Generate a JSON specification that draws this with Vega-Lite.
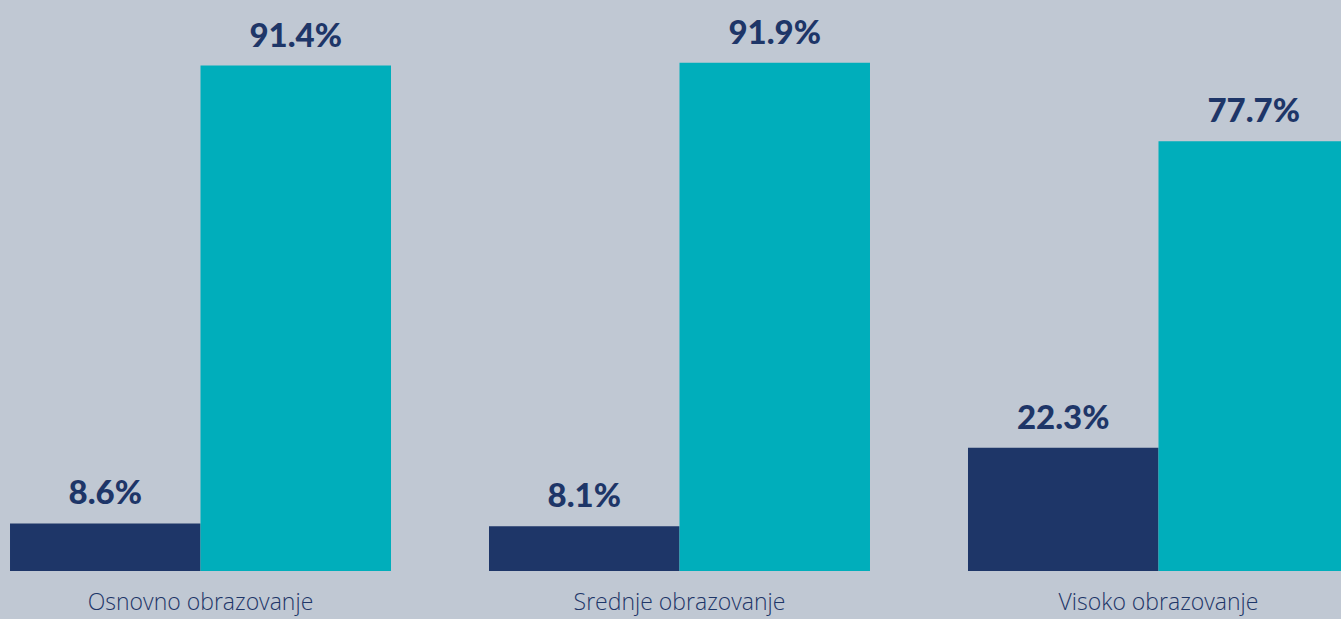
{
  "$schema": "https://vega.github.io/schema/vega-lite/v6.json",
  "width": 1341,
  "height": 571,
  "autosize": {"type": "none"},
  "padding": {"left": 0, "top": 0, "right": 0, "bottom": 48},
  "background": "#c0c8d3",
  "config": {"view": {"stroke": null}},
  "data": {
    "values": [
      {"level": "Osnovno obrazovanje", "series": "A", "value": 0.086},
      {"level": "Osnovno obrazovanje", "series": "B", "value": 0.914},
      {"level": "Srednje obrazovanje", "series": "A", "value": 0.081},
      {"level": "Srednje obrazovanje", "series": "B", "value": 0.919},
      {"level": "Visoko obrazovanje", "series": "A", "value": 0.223},
      {"level": "Visoko obrazovanje", "series": "B", "value": 0.777}
    ]
  },
  "encoding": {
    "x": {
      "field": "level",
      "type": "nominal",
      "sort": ["Osnovno obrazovanje", "Srednje obrazovanje", "Visoko obrazovanje"],
      "scale": {"range": [0, 1359], "paddingInner": 0.2046, "paddingOuter": 0.0209},
      "axis": {
        "title": null,
        "domain": false,
        "ticks": false,
        "grid": false,
        "labelAngle": 0,
        "labelFont": "Open Sans",
        "labelFontWeight": 300,
        "labelFontSize": 23,
        "labelColor": "#1e3668",
        "labelPadding": 20,
        "labelLimit": 0
      }
    },
    "xOffset": {"field": "series", "type": "nominal", "scale": {"paddingInner": 0, "paddingOuter": 0}},
    "y": {"field": "value", "type": "quantitative", "scale": {"domain": [0, 1.0325], "nice": false, "zero": true}, "axis": null}
  },
  "layer": [
    {
      "mark": {"type": "bar"},
      "encoding": {
        "color": {"field": "series", "type": "nominal", "scale": {"domain": ["A", "B"], "range": ["#1e3668", "#00aebb"]}, "legend": null}
      }
    },
    {
      "mark": {"type": "text", "dy": -19, "baseline": "alphabetic", "font": "Lato", "fontWeight": 900, "fontSize": 33, "color": "#1e3668"},
      "encoding": {"text": {"field": "value", "type": "quantitative", "format": ".1%"}}
    }
  ]
}
